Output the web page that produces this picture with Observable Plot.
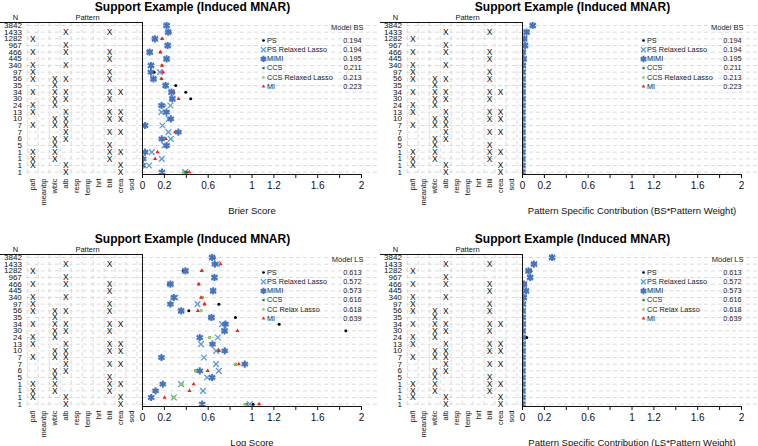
<!DOCTYPE html>
<html><head><meta charset="utf-8">
<script src="https://cdn.jsdelivr.net/npm/d3@7"></script>
<script src="https://cdn.jsdelivr.net/npm/@observablehq/plot@0.6"></script>
<style>
body{margin:0;background:#fff;}
#root{position:relative;width:758px;height:446px;overflow:hidden;background:#fff;}
.panel{position:absolute;width:380px;height:223px;}
.panel svg{position:absolute;left:0;top:0;}
</style></head><body><div id="root"></div>
<script>
// ---------- data ----------
const nCounts = [3842,1433,1282,967,466,445,340,97,56,35,34,30,24,13,10,7,7,6,5,1,1,1,1];
const patternVars = ["pafi","meanbp","wblc","alb","resp","temp","hrt","bili","crea","sod"];
const missingByRow = [
  [],["alb","bili"],["pafi"],["alb"],["pafi","alb","bili"],["bili"],["pafi","alb"],["pafi","bili"],
  ["pafi","wblc","alb","bili"],["wblc"],["pafi","wblc","alb","bili","crea"],["wblc","alb","bili"],
  ["pafi","wblc"],["pafi","alb","bili","crea"],["wblc","alb","bili","crea"],["pafi","wblc","alb"],
  ["alb","bili","crea"],["wblc","alb"],["wblc","bili"],["pafi","wblc","bili","crea"],
  ["pafi","wblc","bili"],["pafi","alb","crea"],["alb","crea"]
];
const methodsBS = ["PS","PS Relaxed Lasso","MIMI","CCS","CCS Relaxed Lasso","MI"];
const methodsLS = ["PS","PS Relaxed Lasso","MIMI","CCS","CC Relax Lasso","MI"];
const modelBS = ["0.194","0.194","0.195","0.211","0.213","0.223"];
const modelLS = ["0.613","0.572","0.573","0.616","0.618","0.639"];
const xTicks = [0,0.2,0.4,0.6,0.8,1,1.2,1.4,1.6,1.8,2];
const xTickLabels = ["0","0.2","","0.6","","1","1.2","","1.6","","2"];

// Brier score per pattern
const bsPS    = [.22,.245,.115,.23,.067,.22,.076,.106,.106,.304,.395,.44,.176,.219,.258,.024,.328,.176,.22,.024,.006,.0,.40];
const bsPSRL  = [.22,.235,.115,.23,.067,.22,.076,.158,.10,.213,.265,.274,.255,.173,.24,.182,.237,.258,.20,.085,.176,.06,.39];
const bsMIMI  = [.22,.235,.113,.23,.065,.22,.078,.076,.10,.211,.265,.272,.174,.219,.258,.024,.328,.176,.22,.024,.006,.0,.178];
const bsCCS   = [.22,.24,.179,.23,.163,.22,.178,.186,.173,.213,.285,.274,.2,.219,.258,.024,.328,.176,.22,.024,.006,.0,.39];
const bsCCSRL = [.22,.24,.179,.23,.163,.22,.178,.186,.173,.213,.285,.274,.2,.219,.258,.024,.328,.176,.22,.024,.006,.0,.37];
const bsMI    = [.22,.25,.179,.23,.163,.22,.178,.186,.173,.213,.285,.33,.176,.219,.258,.024,.298,.213,.22,.137,.115,.0,.427];
// Brier score * pattern weight
const bswPS    = [.093,.038,.016,.024,.003,.011,.003,.001,.001,.001,.001,.001,.0,.0,.0,.0,.0,.0,.0,.0,.0,.0,.0];
const bswPSRL  = [.093,.037,.016,.024,.003,.011,.003,.002,.001,.001,.001,.001,.001,.0,.0,.0,.0,.0,.0,.0,.0,.0,.0];
const bswMIMI  = [.093,.037,.016,.024,.003,.011,.003,.001,.001,.001,.001,.001,.0,.0,.0,.0,.0,.0,.0,.0,.0,.0,.0];
const bswCCS   = [.093,.038,.025,.024,.008,.011,.007,.002,.001,.001,.001,.001,.001,.0,.0,.0,.0,.0,.0,.0,.0,.0,.0];
const bswCCSRL = [.093,.038,.025,.024,.008,.011,.007,.002,.001,.001,.001,.001,.001,.0,.0,.0,.0,.0,.0,.0,.0,.0,.0];
const bswMI    = [.093,.039,.025,.024,.008,.011,.007,.002,.001,.001,.001,.001,.0,.0,.0,.0,.0,.0,.0,.0,.0,.0,.0];
// Log score per pattern (PS row 13 lies off the axis)
const lsPS    = [.636,.66,.371,.657,.24,.645,.286,.697,.423,.849,1.248,1.857,14.8,.639,.697,.173,.849,.484,.636,.185,.119,.079,1.01];
const lsPSRL  = [.636,.68,.392,.657,.255,.645,.30,.502,.353,.63,.727,.749,.688,.535,.672,.56,.672,.697,.59,.353,.553,.286,.98];
const lsMIMI  = [.636,.66,.392,.657,.255,.645,.286,.255,.353,.63,.758,.749,.523,.639,.751,.173,.934,.523,.636,.185,.119,.079,.545];
const lsCCS   = [.636,.66,.545,.657,.514,.645,.55,.566,.535,.615,.758,.749,.615,.639,.697,.173,.849,.484,.636,.36,.119,.286,.95];
const lsCCSRL = [.636,.66,.545,.657,.514,.645,.55,.566,.535,.615,.758,.749,.615,.639,.697,.173,.849,.484,.636,.36,.119,.286,.934];
const lsMI    = [.657,.712,.54,.657,.514,.645,.535,.566,.505,.615,.758,.867,.523,.639,.697,.173,.88,.596,.636,.468,.429,.201,1.065];
// Log score * pattern weight
const lswPS    = [.27,.104,.052,.070,.012,.032,.011,.007,.003,.003,.005,.006,.039,.001,.001,.0,.001,.0,.0,.0,.0,.0,.0];
const lswPSRL  = [.27,.107,.055,.070,.013,.032,.011,.005,.002,.002,.003,.002,.002,.001,.001,.0,.001,.0,.0,.0,.0,.0,.0];
const lswMIMI  = [.27,.104,.055,.070,.013,.032,.011,.003,.002,.002,.003,.002,.001,.001,.001,.0,.001,.0,.0,.0,.0,.0,.0];
const lswCCS   = [.27,.104,.077,.070,.026,.032,.021,.006,.003,.002,.003,.002,.002,.001,.001,.0,.001,.0,.0,.0,.0,.0,.0];
const lswCCSRL = [.27,.104,.077,.070,.026,.032,.021,.006,.003,.002,.003,.002,.002,.001,.001,.0,.001,.0,.0,.0,.0,.0,.0];
const lswMI    = [.272,.112,.076,.070,.026,.032,.020,.006,.003,.002,.003,.003,.001,.001,.001,.0,.001,.0,.0,.0,.0,.0,.0];

// ---------- styling ----------
const FONT = '"Liberation Sans", Arial, Helvetica, sans-serif';
const PW = 380, PH = 223, TABLE_W = 142, M_TOP = 22, M_BOTTOM = 49;
const nRows = nCounts.length;
const yDomain = [nRows + 0.35, 0.55];
const gridStroke = "#d2d2d2", gridDash = "4,3";
const methodStyles = [
  {symbol: "circle",   fill: "#000000", r: 1.5},
  {symbol: "times",    stroke: "#5B9BD5", strokeWidth: 1.3, r: 2.7},
  {symbol: "asterisk", stroke: "#4472C4", strokeWidth: 2.0, r: 3.4},
  {symbol: "square",   fill: "#1E7B3A", r: 1.4},
  {symbol: "circle",   fill: "#92D050", r: 1.5},
  {symbol: "triangle", fill: "#FF1A1A", r: 1.5}
];
const drawOrder = [0, 1, 3, 4, 5, 2];

function tablePlot() {
  const rows = nCounts.map((n, i) => ({row: i + 1, n: String(n)}));
  const cells = missingByRow.flatMap((vars, i) => vars.map(v => ({row: i + 1, col: patternVars.indexOf(v) + 1})));
  const cols = patternVars.map((v, i) => i + 1);
  const bounds = d3.range(0, patternVars.length + 1).map(i => i + 0.5);
  return Plot.plot({
    width: TABLE_W, height: PH, marginLeft: 0, marginRight: 0, marginTop: M_TOP, marginBottom: M_BOTTOM,
    style: {background: "transparent", fontFamily: FONT, overflow: "visible", color: "#111"},
    x: {domain: [-1.945, patternVars.length + 1], axis: null},
    y: {domain: yDomain, axis: null},
    marks: [
      Plot.ruleY(rows, {y: "row", x1: 0.5, x2: patternVars.length + 1, stroke: gridStroke, strokeDasharray: gridDash, strokeWidth: 0.8}),
      Plot.ruleX(bounds, {x: d => d, stroke: gridStroke, strokeDasharray: gridDash, strokeWidth: 0.8}),
      Plot.text(cells, {x: "col", y: "row", text: () => "X", fontSize: 8.5, fill: "#111"}),
      Plot.text(rows, {x: () => 0, y: "row", text: "n", textAnchor: "end", fontSize: 8, fill: "#111"}),
      Plot.axisX({ticks: cols, tickFormat: i => patternVars[i - 1], tickRotate: -90, tickSize: 0, tickPadding: 4, fontSize: 7.5, label: null, anchor: "bottom"}),
      Plot.ruleY([yDomain[1]], {stroke: "#111", strokeWidth: 1}),
      Plot.ruleX([patternVars.length + 1], {stroke: "#111", strokeWidth: 1}),
      Plot.text(["N"], {frameAnchor: "top-left", dx: 15, dy: -5, textAnchor: "middle", lineAnchor: "middle", fontSize: 7.5, fill: "#111"}),
      Plot.text(["Pattern"], {frameAnchor: "top-left", dx: 87, dy: -5, textAnchor: "middle", lineAnchor: "middle", fontSize: 7.5, fill: "#111"})
    ]
  });
}

function dotsPlot(series, labels, modelVals, header, axisLabel) {
  const rows = nCounts.map((n, i) => ({row: i + 1}));
  const tickLab = new Map(xTicks.map((t, i) => [t, xTickLabels[i]]));
  const marks = [
    Plot.ruleY(rows, {y: "row", stroke: gridStroke, strokeDasharray: gridDash, strokeWidth: 0.8}),
    Plot.ruleY([yDomain[0]], {x1: xTicks[0], x2: xTicks[xTicks.length - 1], stroke: "#111", strokeWidth: 1}),
    Plot.axisX({ticks: xTicks, tickFormat: d => tickLab.get(d), tickSize: 4, tickPadding: 3, fontSize: 10, label: null, anchor: "bottom", stroke: "#111"}),
    Plot.text([axisLabel], {frameAnchor: "bottom-left", dx: 109.5, dy: 36, textAnchor: "middle", lineAnchor: "middle", fontSize: 9.5, fill: "#111"}),
    Plot.text(["Support Example (Induced MNAR)"], {frameAnchor: "top-left", dx: 50, dy: -15.5, textAnchor: "middle", lineAnchor: "middle", fontSize: 12, fontWeight: "bold", fill: "#000"})
  ];
  for (const m of drawOrder) {
    const data = series[m].map((v, i) => ({row: i + 1, value: v}));
    marks.push(Plot.dot(data, {x: "value", y: "row", clip: true, ...methodStyles[m]}));
  }
  // legend
  marks.push(Plot.text([header], {frameAnchor: "top-left", dx: 221, dy: 5, textAnchor: "end", lineAnchor: "middle", fontSize: 7.5, fill: "#222"}));
  labels.forEach((lab, i) => {
    const dy = 18 + 9.2 * i;
    const st = methodStyles[i];
    marks.push(Plot.dot([lab], {frameAnchor: "top-left", dx: 121, dy, ...st, r: st.r * 0.9}));
    marks.push(Plot.text([lab], {frameAnchor: "top-left", dx: 124.5, dy, textAnchor: "start", lineAnchor: "middle", fontSize: 7.3, fill: "#222"}));
    marks.push(Plot.text([modelVals[i]], {frameAnchor: "top-left", dx: 219, dy, textAnchor: "end", lineAnchor: "middle", fontSize: 7.3, fill: "#222"}));
  });
  return Plot.plot({
    width: PW, height: PH, marginLeft: TABLE_W, marginRight: 0, marginTop: M_TOP, marginBottom: M_BOTTOM,
    style: {background: "transparent", fontFamily: FONT, overflow: "visible", color: "#111"},
    x: {domain: [0, 2], range: [TABLE_W, 361]},
    y: {domain: yDomain, axis: null},
    marks
  });
}

function panel(left, top, series, labels, modelVals, header, axisLabel) {
  const div = document.createElement("div");
  div.className = "panel";
  div.style.left = left + "px";
  div.style.top = top + "px";
  div.appendChild(dotsPlot(series, labels, modelVals, header, axisLabel));
  div.appendChild(tablePlot());
  document.getElementById("root").appendChild(div);
}

panel(0, 0, [bsPS, bsPSRL, bsMIMI, bsCCS, bsCCSRL, bsMI], methodsBS, modelBS, "Model BS", "Brier Score");
panel(380, 0, [bswPS, bswPSRL, bswMIMI, bswCCS, bswCCSRL, bswMI], methodsBS, modelBS, "Model BS", "Pattern Specific Contribution (BS*Pattern Weight)");
panel(0, 231.5, [lsPS, lsPSRL, lsMIMI, lsCCS, lsCCSRL, lsMI], methodsLS, modelLS, "Model LS", "Log Score");
panel(380, 231.5, [lswPS, lswPSRL, lswMIMI, lswCCS, lswCCSRL, lswMI], methodsLS, modelLS, "Model LS", "Pattern Specific Contribution (LS*Pattern Weight)");
</script></body></html>
